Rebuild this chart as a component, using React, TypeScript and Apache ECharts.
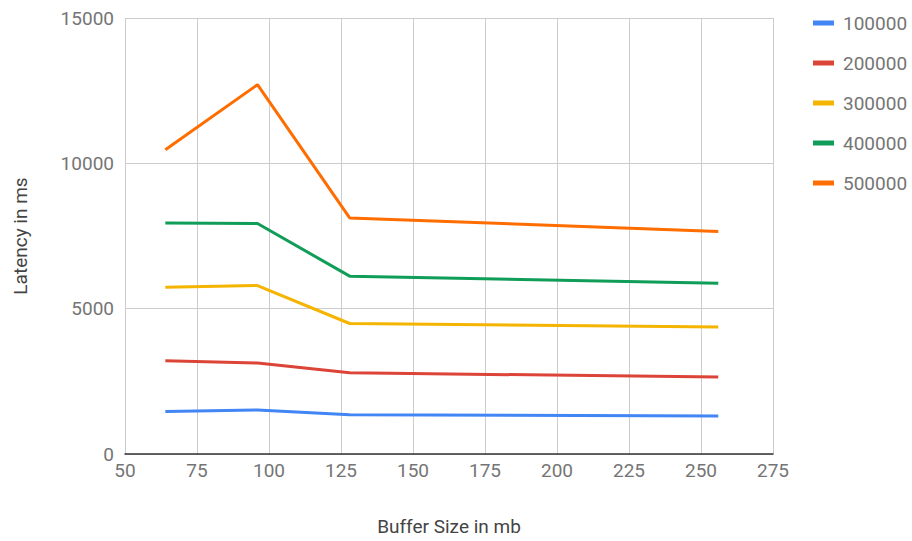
import React, { useEffect, useRef } from "react";
import * as echarts from "echarts";

const bufferSizes = [64, 96, 128, 256];
const seriesNames = ["100000", "200000", "300000", "400000", "500000"];
const s100000 = [1464, 1513, 1351, 1306];
const s200000 = [3207, 3128, 2795, 2647];
const s300000 = [5741, 5796, 4490, 4366];
const s400000 = [7951, 7930, 6119, 5878];
const s500000 = [10470, 12706, 8123, 7652];
const seriesValues = [s100000, s200000, s300000, s400000, s500000];
const colors = ["#4285F4", "#DB4437", "#F4B400", "#0F9D58", "#FF6D00"];

export default function App() {
  const ref = useRef<HTMLDivElement>(null);
  useEffect(() => {
    if (!ref.current) return;
    const chart = echarts.init(ref.current, null, { renderer: "svg" });
    chart.setOption({
      animation: false,
      color: colors,
      textStyle: { fontFamily: "Roboto" },
      grid: { left: 125, right: 139, top: 18, bottom: 86 },
      legend: {
        orient: "vertical",
        left: 808,
        top: 8,
        icon: "rect",
        itemWidth: 21,
        itemHeight: 5,
        itemGap: 20,
        textStyle: { fontSize: 19, color: "#757575", lineHeight: 20, padding: [0, 0, 0, 4] },
        data: seriesNames,
      },
      xAxis: {
        type: "value",
        min: 50,
        max: 275,
        interval: 25,
        name: "Buffer Size in mb",
        nameLocation: "middle",
        nameGap: 63,
        nameTextStyle: { fontSize: 19, color: "#444" },
        axisLine: { show: true, onZero: false, lineStyle: { color: "#333", width: 1.5 } },
        axisTick: { show: false },
        axisLabel: { fontSize: 19, color: "#757575", margin: 7 },
        splitLine: { show: true, lineStyle: { color: "#cccccc", width: 1 } },
      },
      yAxis: {
        type: "value",
        min: 0,
        max: 15000,
        interval: 5000,
        name: "Latency in ms",
        nameLocation: "middle",
        nameGap: 95,
        nameTextStyle: { fontSize: 19, color: "#444" },
        axisLine: { show: false },
        axisTick: { show: false },
        axisLabel: { fontSize: 19, color: "#757575", margin: 11, formatter: (v: number) => String(v) },
        splitLine: { show: true, lineStyle: { color: "#cccccc", width: 1 } },
      },
      series: seriesNames.map((name, i) => ({
        name,
        type: "line",
        data: bufferSizes.map((x, j) => [x, seriesValues[i][j]]),
        showSymbol: false,
        symbol: "none",
        lineStyle: { width: 3, color: colors[i] },
        itemStyle: { color: colors[i] },
      })),
    });
    return () => chart.dispose();
  }, []);
  return (
    <div
      ref={ref}
      style={{ position: "absolute", left: 0, top: 0, width: 912, height: 541 }}
    />
  );
}
